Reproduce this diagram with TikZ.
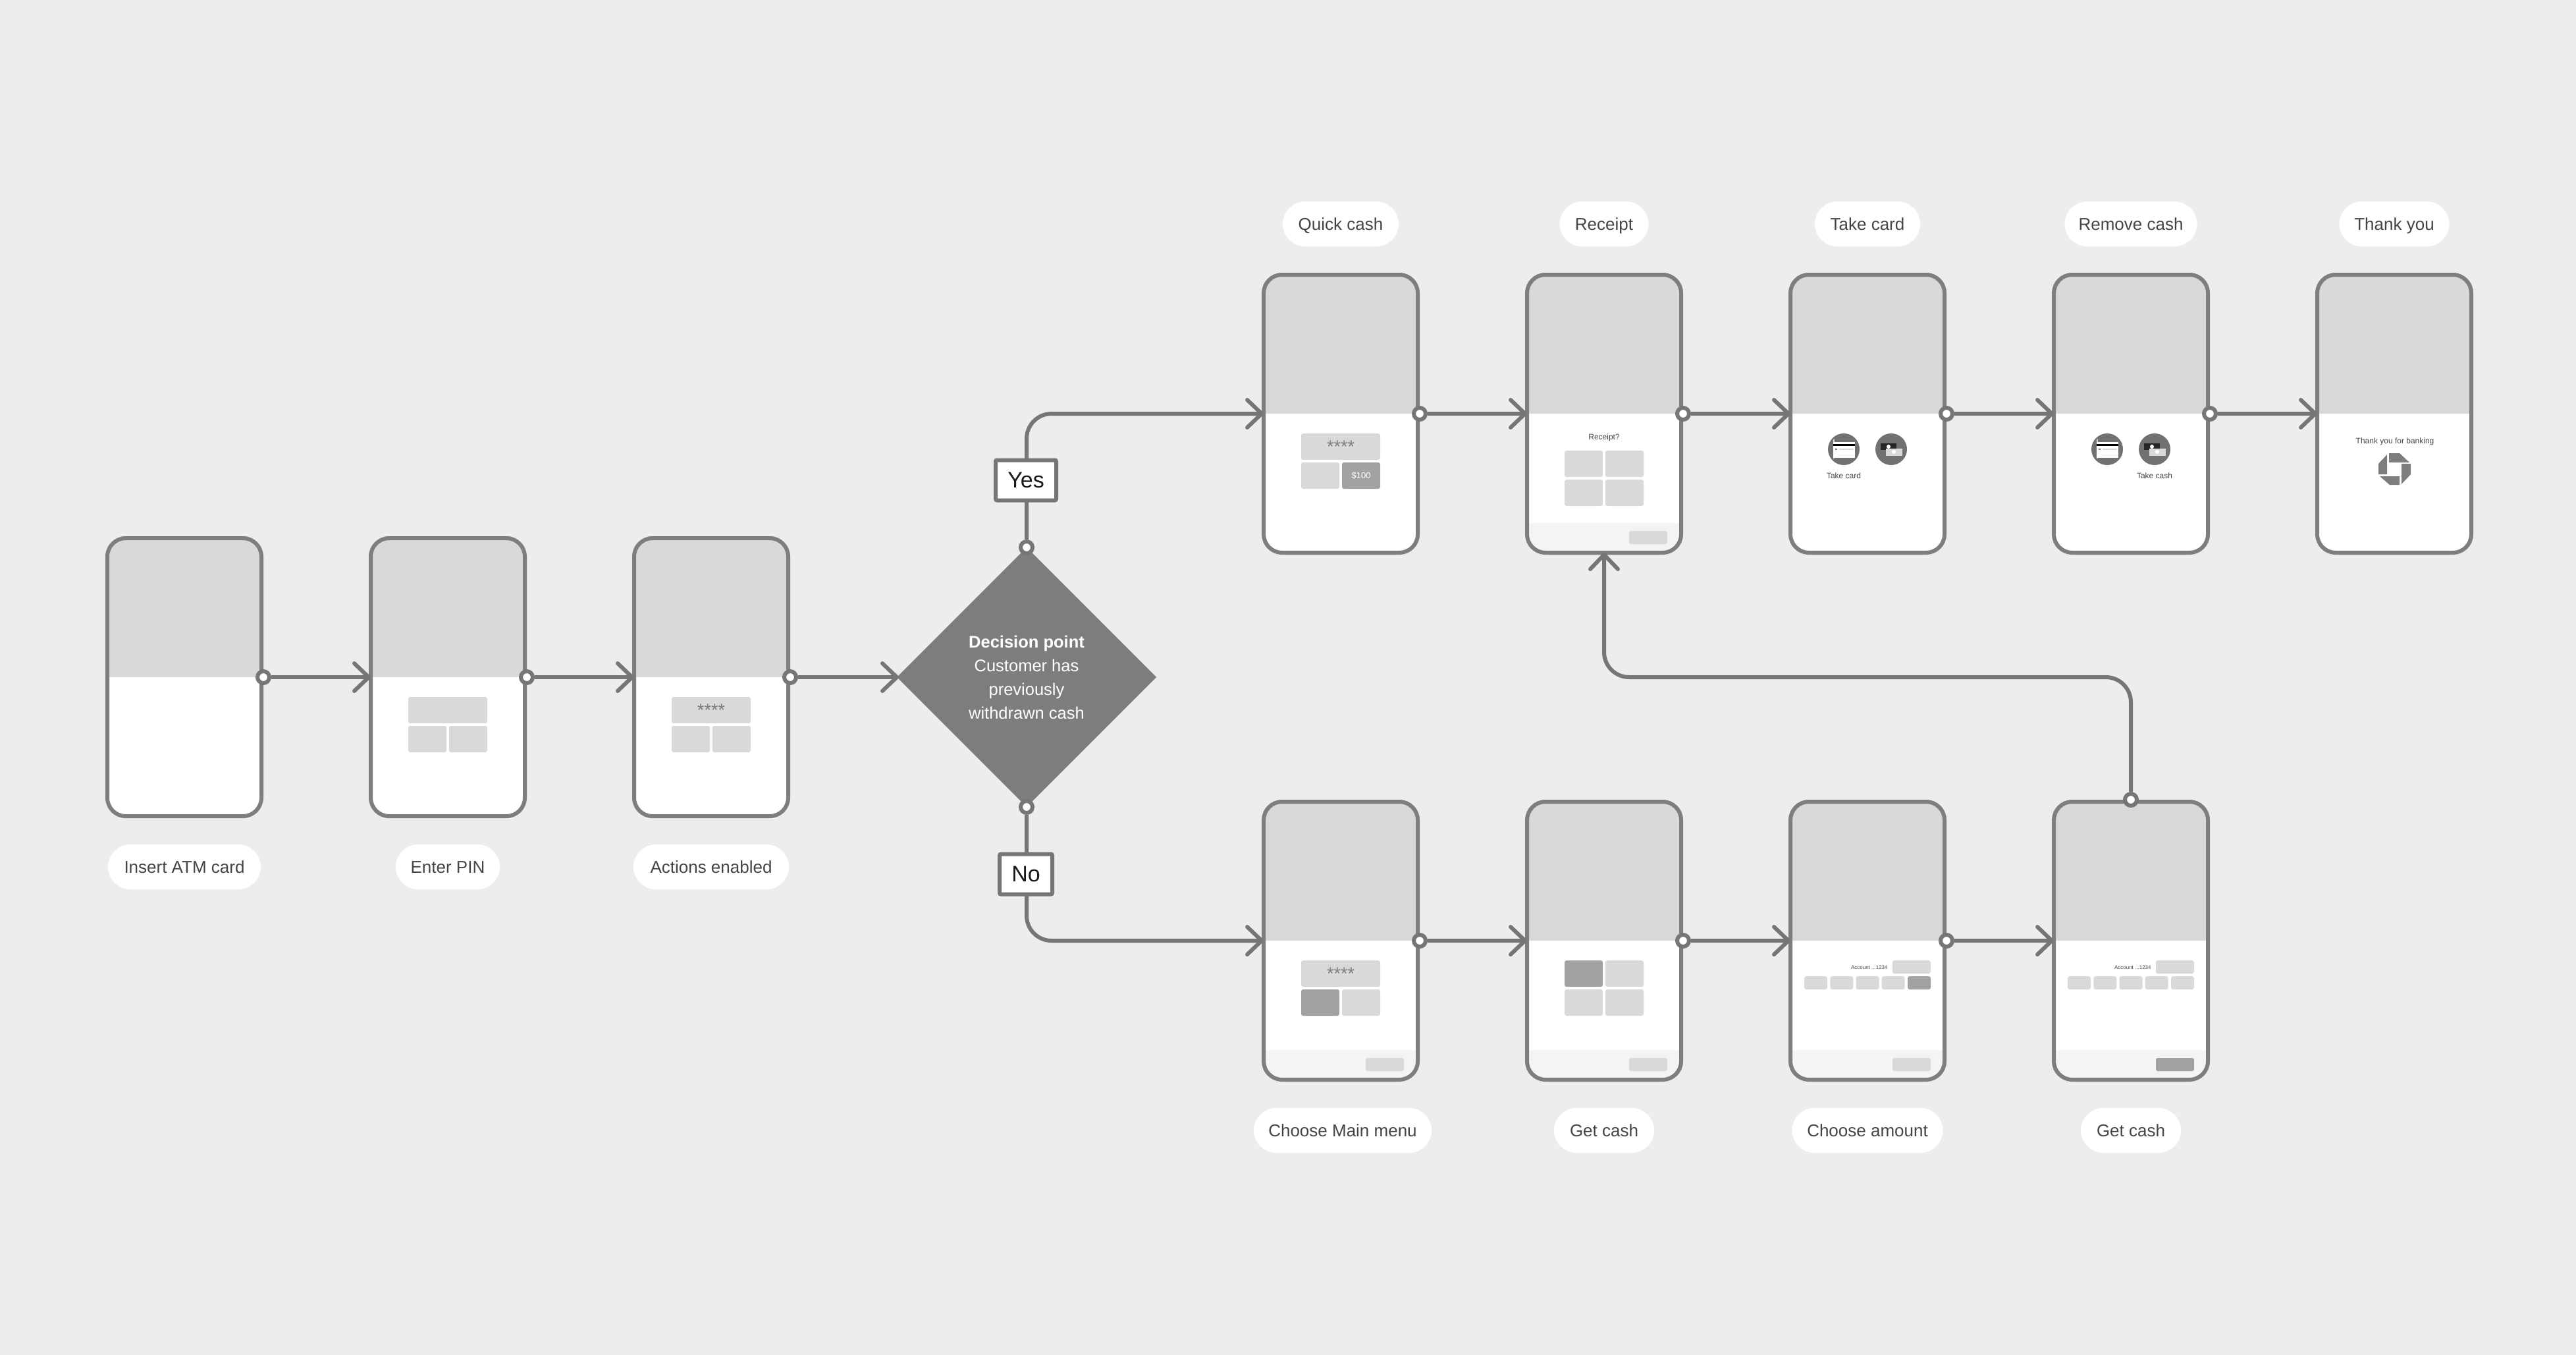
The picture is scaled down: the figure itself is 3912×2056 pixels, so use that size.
\documentclass[tikz,border=0pt]{standalone}
\usepackage{fontspec}
\setmainfont{Liberation Sans}
\usepackage{tikz}
\usetikzlibrary{arrows.meta,shapes.geometric}
\definecolor{pagebg}{HTML}{EDEDED}
\definecolor{screengray}{HTML}{D9D9D9}
\definecolor{footgray}{HTML}{F4F4F4}
\definecolor{framegray}{HTML}{7E7E7E}
\definecolor{linegray}{HTML}{767676}
\definecolor{darkgray}{HTML}{7C7D7F}
\definecolor{hlgray}{HTML}{A2A2A2}
\definecolor{inkgray}{HTML}{444444}
\tikzset{
  flowline/.style={line width=3pt, linegray, rounded corners=19pt},
  flowarrow/.style={flowline, shorten >=-1.5pt, -{Straight Barb[length=11pt, width=21pt, round]}},
  phone/.style={draw=framegray, line width=3pt, fill=white, rounded corners=14pt, inner sep=0pt, minimum width=117pt, minimum height=211pt,
    path picture={\fill[screengray, sharp corners] (path picture bounding box.north west) rectangle (path picture bounding box.east);}},
  phonefoot/.style={phone,
    path picture={\fill[screengray, sharp corners] (path picture bounding box.north west) rectangle (path picture bounding box.east);
      \fill[footgray, sharp corners] (path picture bounding box.south west) rectangle ([yshift=22.5pt]path picture bounding box.south east);}},
  portdot/.style={circle, draw=linegray, line width=3pt, fill=white, minimum size=9pt, inner sep=0pt},
  pill/.style={fill=white, rounded corners=17pt, minimum height=34pt, inner sep=0pt, text=inkgray, text height=10.6pt, text depth=1.2pt, font=\fontsize{13}{15}\selectfont},
  answer/.style={draw=linegray, line width=3pt, fill=white, minimum height=30.5pt, inner sep=0pt, rounded corners=1pt, text=black!90, font=\fontsize{17}{20}\selectfont},
  decision/.style={diamond, fill=darkgray, aspect=1, minimum width=197pt, minimum height=197pt, inner sep=0pt, outer sep=0pt, text=white, align=center, font=\fontsize{12.75}{18}\selectfont},
  keybox/.style={fill=screengray, rounded corners=1.5pt, inner sep=0pt, minimum width=29pt, minimum height=20pt},
  keydark/.style={keybox, fill=hlgray, text=white, font=\fontsize{6.5}{8}\selectfont},
  fieldbox/.style={keybox, minimum width=60pt, text=framegray, font=\fontsize{13.5}{15}\selectfont},
  footbox/.style={keybox, minimum height=10pt},
  amountbox/.style={keybox, minimum width=17.5pt, minimum height=10pt},
  tinytext/.style={inner sep=0pt, text=inkgray, font=\fontsize{6}{7}\selectfont},
  accttext/.style={inner sep=0pt, text=inkgray, font=\fontsize{4}{5}\selectfont},
  iconround/.style={circle, fill=darkgray!90!black, minimum size=24pt, inner sep=0pt},
  cardicon/.pic={
    \fill[screengray] (-16,-15) rectangle (-14,14);
    \fill[white] (-16,-11) rectangle (17,13);
    \fill[black] (-16,-8) rectangle (17,-5);
    \fill[framegray] (-13,-1) rectangle (-10,1);
    \fill[screengray] (-7,-1) rectangle (15,1);
  },
  cashicon/.pic={
    \fill[black!85] (-16,-9) rectangle (8,1);
    \fill[screengray] (-8,-1) rectangle (17,10);
    \fill[white] (-4,-4) circle (3);
    \fill[white] (4,4) circle (3);
  }
}
\begin{document}
\begin{tikzpicture}[x=0.5pt, y=-0.5pt]
      \useasboundingbox (0,0) rectangle (3912,2056);
      \fill[pagebg] (-10,-10) rectangle (3922,2066);
      % first row
      \node[phone] (s1) at (280,1028) {};
      \node[phone] (s2) at (680,1028) {};
      \node[phone] (s3) at (1080,1028) {};
      \node[decision] (dec) at (1559,1028) {\textbf{Decision point}\\Customer has\\previously\\withdrawn cash};
      \node[pill, minimum width=116pt] (n1) at (280,1316) {Insert ATM card};
      \node[pill, minimum width=79pt] (n2) at (680,1316) {Enter PIN};
      \node[pill, minimum width=118pt] (n3) at (1080,1316) {Actions enabled};
      \node[fieldbox] (k1) at (680,1078) {};
      \node[keybox] (k2) at (649,1122) {};
      \node[keybox] (k3) at (711,1122) {};
      \node[fieldbox] (k4) at (1080,1078) {****};
      \node[keybox] (k5) at (1049,1122) {};
      \node[keybox] (k6) at (1111,1122) {};
      % yes row
      \node[phone] (u1) at (2036,628) {};
      \node[phonefoot] (u2) at (2436,628) {};
      \node[phone] (u3) at (2836,628) {};
      \node[phone] (u4) at (3236,628) {};
      \node[phone] (u5) at (3636,628) {};
      \node[pill, minimum width=88pt] (t1) at (2036,340) {Quick cash};
      \node[pill, minimum width=67.5pt] (t2) at (2436,340) {Receipt};
      \node[pill, minimum width=80pt] (t3) at (2836,340) {Take card};
      \node[pill, minimum width=100.5pt] (t4) at (3236,340) {Remove cash};
      \node[pill, minimum width=83.5pt] (t5) at (3636,340) {Thank you};
      \node[fieldbox] (a1) at (2036,678) {****};
      \node[keybox] (a2) at (2005,722) {};
      \node[keydark] (a3) at (2067,722) {\$100};
      \node[tinytext] (b0) at (2436,664) {Receipt?};
      \node[keybox] (b1) at (2405,704) {};
      \node[keybox] (b2) at (2467,704) {};
      \node[keybox] (b3) at (2405,748) {};
      \node[keybox] (b4) at (2467,748) {};
      \node[footbox] (b5) at (2503,816) {};
      \node[iconround] (c1) at (2800,682) {};
      \node[iconround] (c2) at (2872,682) {};
      \pic at (2800,682) {cardicon};
      \pic at (2872,682) {cashicon};
      \node[tinytext] (c3) at (2800,722) {Take card};
      \node[iconround] (e1) at (3200,682) {};
      \node[iconround] (e2) at (3272,682) {};
      \pic at (3200,682) {cardicon};
      \pic at (3272,682) {cashicon};
      \node[tinytext] (e3) at (3272,722) {Take cash};
      \node[tinytext] (f1) at (3637,670) {Thank you for banking};
      \fill[darkgray] (3628,688) -- (3644,688) -- (3659,702) -- (3628,702) -- cycle;
      \fill[darkgray] (3625,690) -- (3625,720) -- (3612,720) -- (3612,704) -- cycle;
      \fill[darkgray] (3614,723) -- (3644,723) -- (3644,736) -- (3629,736) -- cycle;
      \fill[darkgray] (3647,704) -- (3661,704) -- (3661,720) -- (3647,735) -- cycle;
      % no row
      \node[phonefoot] (l1) at (2036,1428) {};
      \node[phonefoot] (l2) at (2436,1428) {};
      \node[phonefoot] (l3) at (2836,1428) {};
      \node[phonefoot] (l4) at (3236,1428) {};
      \node[pill, minimum width=135pt] (m1) at (2039,1716) {Choose Main menu};
      \node[pill, minimum width=76pt] (m2) at (2436,1716) {Get cash};
      \node[pill, minimum width=114.5pt] (m3) at (2836,1716) {Choose amount};
      \node[pill, minimum width=76pt] (m4) at (3236,1716) {Get cash};
      \node[fieldbox] (g1) at (2036,1478) {****};
      \node[keydark] (g2) at (2005,1522) {};
      \node[keybox] (g3) at (2067,1522) {};
      \node[footbox] (g4) at (2103,1616) {};
      \node[keydark] (h1) at (2405,1478) {};
      \node[keybox] (h2) at (2467,1478) {};
      \node[keybox] (h3) at (2405,1522) {};
      \node[keybox] (h4) at (2467,1522) {};
      \node[footbox] (h5) at (2503,1616) {};
      \node[accttext, anchor=east] (i0) at (2867,1469) {Account ...1234};
      \node[footbox] (i1) at (2903,1468) {};
      \node[amountbox] (i2) at (2757.5,1492) {};
      \node[amountbox] (i3) at (2796.8,1492) {};
      \node[amountbox] (i4) at (2836,1492) {};
      \node[amountbox] (i5) at (2875.2,1492) {};
      \node[amountbox, fill=hlgray] (i6) at (2914.5,1492) {};
      \node[footbox] (i7) at (2903,1616) {};
      \node[accttext, anchor=east] (j0) at (3267,1469) {Account ...1234};
      \node[footbox] (j1) at (3303,1468) {};
      \node[amountbox] (j2) at (3157.5,1492) {};
      \node[amountbox] (j3) at (3196.8,1492) {};
      \node[amountbox] (j4) at (3236,1492) {};
      \node[amountbox] (j5) at (3275.2,1492) {};
      \node[amountbox] (j6) at (3314.5,1492) {};
      \node[footbox, fill=hlgray] (j7) at (3303,1616) {};
      % ports
      \node[portdot] (ps1) at (s1.east) {};
      \node[portdot] (ps2) at (s2.east) {};
      \node[portdot] (ps3) at (s3.east) {};
      \node[portdot] (pyes) at (dec.north) {};
      \node[portdot] (pno) at (dec.south) {};
      \node[portdot] (pu1) at (u1.east) {};
      \node[portdot] (pu2) at (u2.east) {};
      \node[portdot] (pu3) at (u3.east) {};
      \node[portdot] (pu4) at (u4.east) {};
      \node[portdot] (pl1) at (l1.east) {};
      \node[portdot] (pl2) at (l2.east) {};
      \node[portdot] (pl3) at (l3.east) {};
      \node[portdot] (pback) at (l4.north) {};
      \coordinate (backturn) at (2436,1028);
      \draw[flowarrow] (ps1) -- (s2);
      \draw[flowarrow] (ps2) -- (s3);
      \draw[flowarrow] (ps3) -- (dec);
      \draw[flowarrow] (pyes.north) |- (u1.west);
      \draw[flowarrow] (pno.south) |- (l1.west);
      \draw[flowarrow] (pu1) -- (u2);
      \draw[flowarrow] (pu2) -- (u3);
      \draw[flowarrow] (pu3) -- (u4);
      \draw[flowarrow] (pu4) -- (u5);
      \draw[flowarrow] (pl1) -- (l2);
      \draw[flowarrow] (pl2) -- (l3);
      \draw[flowarrow] (pl3) -- (l4);
      \draw[flowarrow] (pback.north) |- (backturn) -- (u2.south);
      \node[answer, minimum width=46pt] (yes) at (1558,729) {Yes};
      \node[answer, minimum width=40pt] (no) at (1558,1327) {No};
    \end{tikzpicture}
\end{document}
